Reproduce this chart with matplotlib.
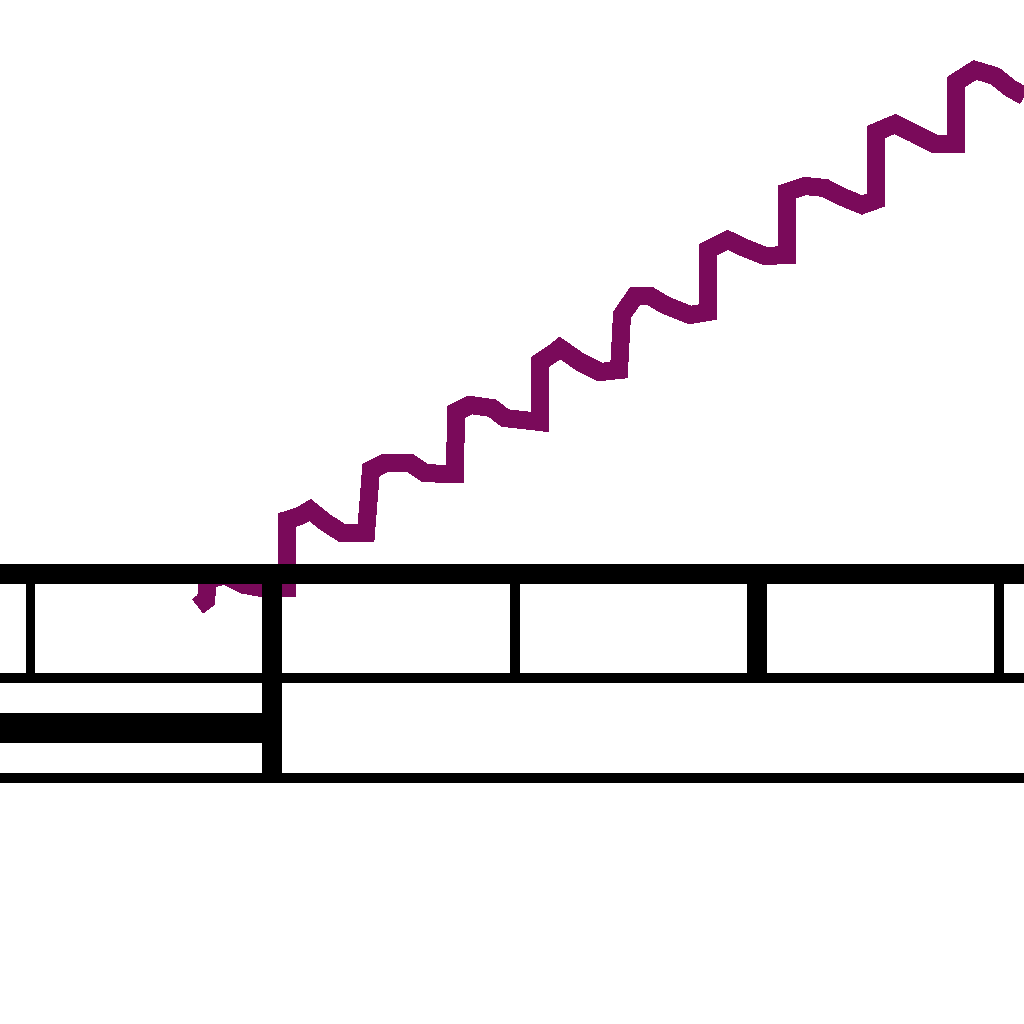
import matplotlib
matplotlib.use("Agg")
import matplotlib.pyplot as plt

# purple series (picture units, y grows downward)
line_x = [198, 206, 208, 225, 245, 262, 287, 287, 300, 310, 325, 342, 366,
          371, 385, 410, 425, 446, 455, 456, 470, 492, 505, 540,
          540, 555, 560, 580, 600, 619, 622, 635, 650, 665, 690, 708,
          708, 728, 745, 765, 787, 787, 805, 825, 840, 862, 876,
          876, 895, 915, 935, 956, 956, 975, 995, 1010, 1024]
line_y = [606, 600, 580, 575, 585, 588, 588, 520, 516, 510, 522, 533, 533,
          470, 463, 463, 473, 474, 474, 412, 405, 408, 418, 422,
          362, 352, 348, 362, 372, 370, 315, 296, 296, 305, 315, 312,
          250, 240, 248, 256, 255, 192, 186, 188, 196, 205, 200,
          132, 124, 134, 144, 144, 82, 70, 76, 88, 96]

# table rules below the line
row_y = [574, 678, 778]
row_w = [20, 10, 10]
band_y = 728
band_end = 262
band_w = 30
col_x = [29.5, 272, 515, 757, 999]
col_w = [9, 20, 10, 20, 10]
col_bottom = [673, 773, 673, 673, 673]

px = 72 / 100  # pixel -> point

fig = plt.figure(figsize=(10.24, 10.24), dpi=100)
ax = fig.add_axes([0, 0, 1, 1])
ax.set_xlim(0, 1024)
ax.set_ylim(1024, 0)
ax.axis("off")

ax.plot(line_x, line_y, color="#7a0a5a", lw=17 * px, solid_joinstyle="miter",
        solid_capstyle="butt", antialiased=False, zorder=1)

for y, w in zip(row_y, row_w):
    ax.hlines(y, 0, 1024, colors="black", lw=w * px, antialiased=False, zorder=2)
ax.hlines(band_y, 0, band_end, colors="black", lw=band_w * px, antialiased=False, zorder=2)
for x, w, b in zip(col_x, col_w, col_bottom):
    ax.vlines(x, 584, b, colors="black", lw=w * px, antialiased=False, zorder=2)

plt.savefig("out.png", dpi=100)
